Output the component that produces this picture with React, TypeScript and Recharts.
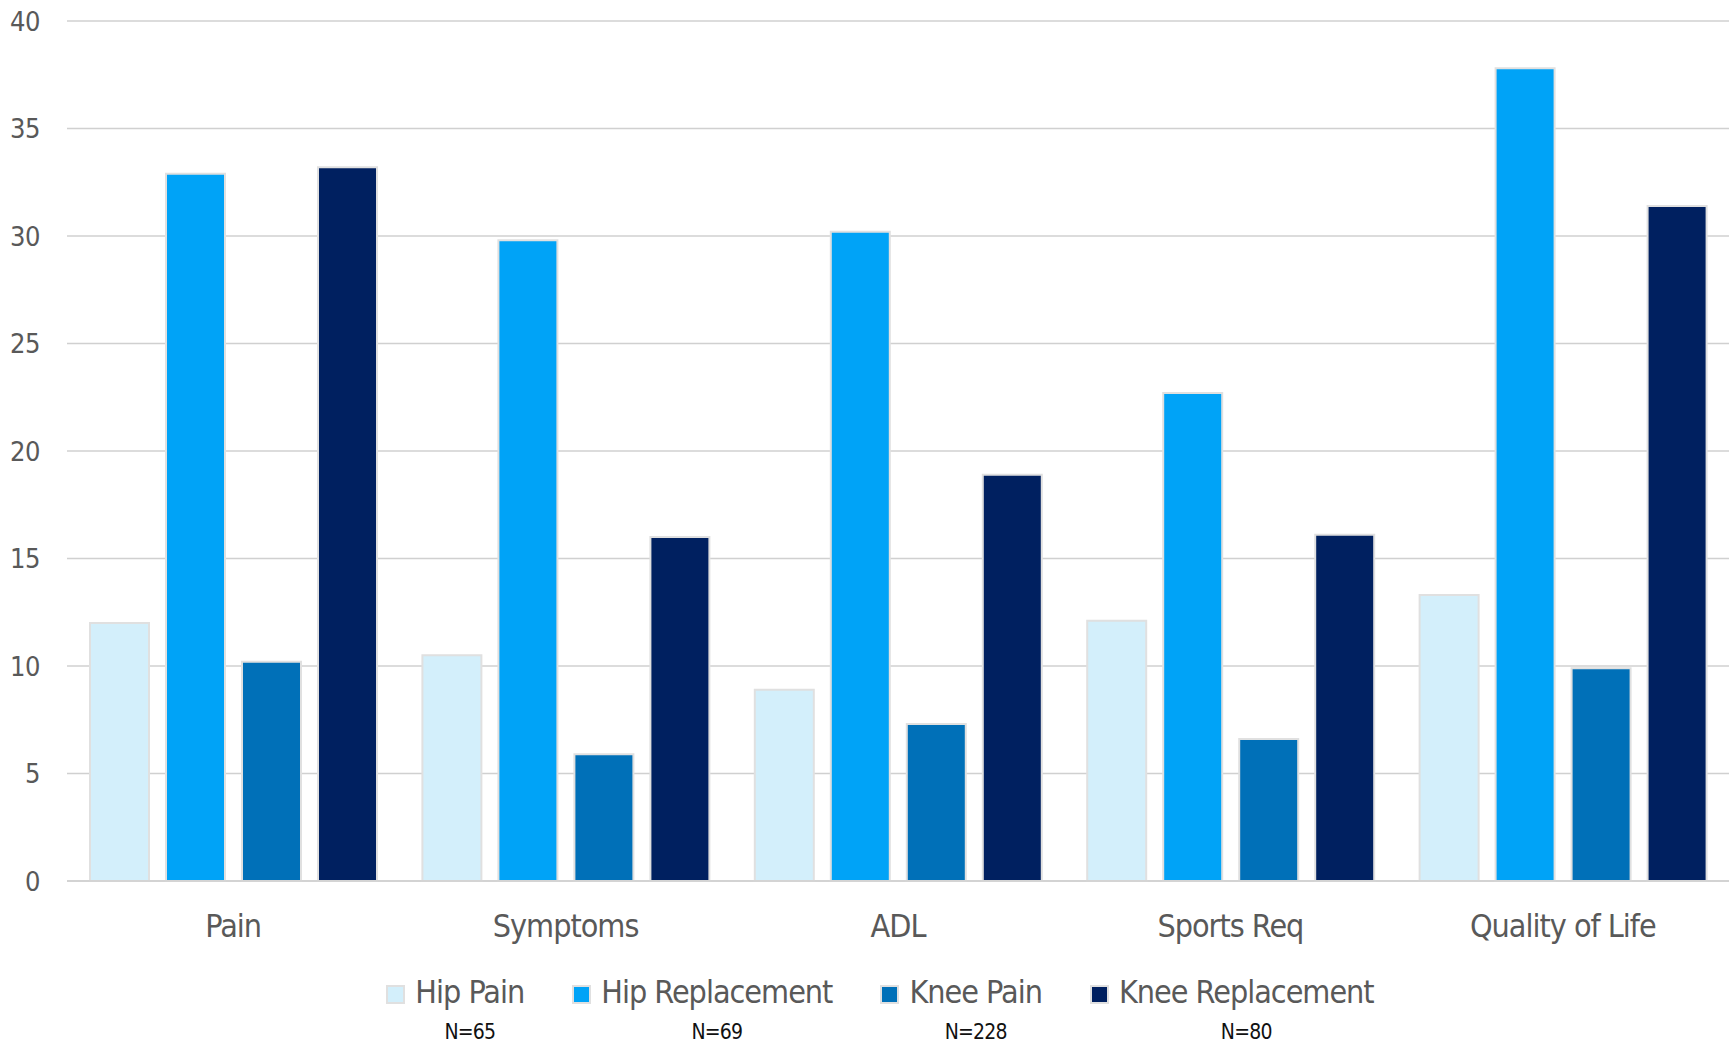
import React from 'react';
import { BarChart, Bar, XAxis, YAxis, CartesianGrid, Legend } from 'recharts';

// Mean scores per subscale, one array per patient group
const categories = ['Pain', 'Symptoms', 'ADL', 'Sports Req', 'Quality of Life'];
const hipPain = [12.0, 10.5, 8.9, 12.1, 13.3];
const hipReplacement = [32.9, 29.8, 30.2, 22.7, 37.8];
const kneePain = [10.2, 5.9, 7.3, 6.6, 9.9];
const kneeReplacement = [33.2, 16.0, 18.9, 16.1, 31.4];

const seriesKeys = ['hipPain', 'hipReplacement', 'kneePain', 'kneeReplacement'];
const seriesNames = ['Hip Pain', 'Hip Replacement', 'Knee Pain', 'Knee Replacement'];
const sampleSizes = ['N=65', 'N=69', 'N=228', 'N=80'];
const yTicks = [0, 5, 10, 15, 20, 25, 30, 35, 40];

const COLORS = ['#d3effb', '#00a3f7', '#0070b8', '#002060'];
const FONT = '"Liberation Sans Narrow", "Arial Narrow", "DejaVu Sans Condensed", sans-serif';
const TEXT_GRAY = '#595959';
const LINE_GRAY = '#d0d0d0';
const BAR_BORDER = '#e0e0e0';

const data = categories.map((category, i) => ({
  category,
  hipPain: hipPain[i],
  hipReplacement: hipReplacement[i],
  kneePain: kneePain[i],
  kneeReplacement: kneeReplacement[i],
}));

// legend row with the group sizes printed under each name
const renderLegend = (props: any) => {
  const payload = props.payload || [];
  return (
    <div
      style={{
        height: 102,
        boxSizing: 'border-box',
        display: 'flex',
        justifyContent: 'center',
        paddingLeft: 31,
        paddingTop: 35,
        fontFamily: FONT,
      }}
    >
      {payload.map((entry: any, i: number) => (
        <div
          key={entry.value}
          style={{ display: 'flex', alignItems: 'flex-start', marginRight: i < payload.length - 1 ? 48 : 0 }}
        >
          <span
            style={{
              width: 15,
              height: 15,
              marginTop: 9,
              marginRight: 10,
              background: entry.color,
              border: `2px solid ${BAR_BORDER}`,
            }}
          />
          <div style={{ display: 'flex', flexDirection: 'column', alignItems: 'center' }}>
            <span
              style={{
                fontSize: 32,
                lineHeight: '32px',
                letterSpacing: -1,
                color: TEXT_GRAY,
                whiteSpace: 'nowrap',
              }}
            >
              {entry.value}
            </span>
            <span style={{ fontSize: 21, lineHeight: '21px', letterSpacing: -0.8, color: '#111', marginTop: 14 }}>
              {sampleSizes[i]}
            </span>
          </div>
        </div>
      ))}
    </div>
  );
};

export default function App() {
  return (
    <div style={{ position: 'absolute', left: 0, top: 0, background: '#fff' }}>
      <BarChart
        width={1729}
        height={1043}
        data={data}
        margin={{ top: 21, right: 0, bottom: 0, left: 0 }}
        barCategoryGap={23}
        barGap={17}
      >
        <CartesianGrid vertical={false} stroke={LINE_GRAY} strokeWidth={1.5} />
        <XAxis
          dataKey="category"
          height={60}
          tickLine={false}
          tickSize={0}
          tickMargin={33}
          axisLine={{ stroke: LINE_GRAY, strokeWidth: 1.5 }}
          tick={{ fill: TEXT_GRAY, fontSize: 32, letterSpacing: -1, fontFamily: FONT }}
        />
        <YAxis
          width={67}
          domain={[0, 40]}
          ticks={yTicks}
          interval={0}
          axisLine={false}
          tickLine={false}
          tickSize={0}
          tickMargin={27}
          tick={{ fill: TEXT_GRAY, fontSize: 27, letterSpacing: -0.5, fontFamily: FONT }}
        />
        <Legend verticalAlign="bottom" content={renderLegend} />
        {seriesKeys.map((key, i) => (
          <Bar
            key={key}
            dataKey={key}
            name={seriesNames[i]}
            fill={COLORS[i]}
            stroke={BAR_BORDER}
            strokeWidth={2}
            isAnimationActive={false}
          />
        ))}
      </BarChart>
    </div>
  );
}
